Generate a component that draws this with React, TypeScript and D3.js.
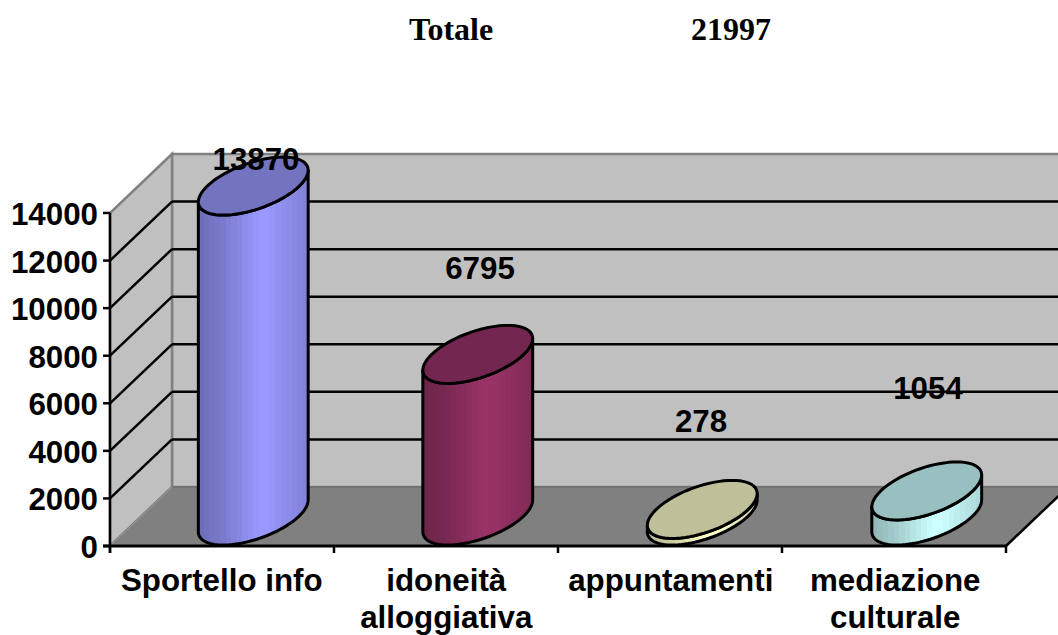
import React from "react";
import * as d3 from "d3";

const categories: string[][] = [["Sportello info"], ["idoneità", "alloggiativa"], ["appuntamenti"], ["mediazione", "culturale"]];
const values = [13870, 6795, 278, 1054];
const valueLabels = ["13870", "6795", "278", "1054"];
const yTicks = [0, 2000, 4000, 6000, 8000, 10000, 12000, 14000];
const sideColors = ["#9999ff", "#993366", "#ffffcc", "#ccffff"];
const topColors = ["#7373bf", "#732650", "#bfbf99", "#99c0c0"];
const labelPos: [number, number][] = [[256, 170], [480, 279], [701, 432], [928, 399]];
const shadeStops = [0.72, 0.74, 0.76, 0.78, 0.8, 0.83, 0.86, 0.89, 0.92, 0.95, 0.98, 1, 1, 0.98, 0.95, 0.93, 0.91, 0.89, 0.87, 0.85];

const W = 1058, H = 635;
const y0 = 546;
const depthX = 62, depthY = 59;
const cylDX = 60, cylDY = 58, cylW = 92;
const FONT = "'Liberation Sans', Arial, sans-serif";
const LABEL_SIZE = 31.3;

const yScale = d3.scaleLinear().domain([0, 14000]).range([y0, 213]);
const xBand = d3.scaleBand<number>().domain(d3.range(categories.length)).range([111, 1009]);
const xLeft = 110;
const xRight = 1006;

function ellipsePath(cx: number, cy: number) {
  const pts = d3.range(0, 73).map((i) => {
    const t = (i / 72) * 2 * Math.PI;
    return [cx + (Math.cos(t) * cylW) / 2 + (Math.sin(t) * cylDX) / 2, cy - (Math.sin(t) * cylDY) / 2] as [number, number];
  });
  return d3.line()(pts) + "Z";
}

function bodyPath(cx: number, yBottom: number, yTop: number) {
  const t0 = Math.atan2(cylDX, cylW);
  const pt = (t: number, cy: number): [number, number] => [
    cx + (Math.cos(t) * cylW) / 2 + (Math.sin(t) * cylDX) / 2,
    cy - (Math.sin(t) * cylDY) / 2,
  ];
  const pts: [number, number][] = [];
  d3.range(0, 49).forEach((i) => pts.push(pt(t0 - (i / 48) * Math.PI, yBottom)));
  d3.range(0, 49).forEach((i) => pts.push(pt(t0 - Math.PI + (i / 48) * Math.PI, yTop)));
  return d3.line()(pts) + "Z";
}

export default function App() {
  const backY = (v: number) => yScale(v) - depthY;
  return (
    <svg width={W} height={H} style={{ position: "absolute", left: 0, top: 0, background: "#fff" }} fontFamily={FONT}>
      <defs>
        {sideColors.map((c, i) => {
          const n = shadeStops.length;
          const col = d3.rgb(c);
          return (
            <linearGradient key={i} id={`side${i}`} x1="0" x2="1" y1="0" y2="0">
              {shadeStops.flatMap((s, j) => {
                const f = `rgb(${col.r * s},${col.g * s},${col.b * s})`;
                return [
                  <stop key={`a${j}`} offset={j / n} stopColor={f} />,
                  <stop key={`b${j}`} offset={(j + 1) / n} stopColor={f} />,
                ];
              })}
            </linearGradient>
          );
        })}
      </defs>

      <text x={409} y={40} fontFamily="'Liberation Serif', 'Times New Roman', serif" fontWeight="bold" fontSize={32}>Totale</text>
      <text x={691} y={40} fontFamily="'Liberation Serif', 'Times New Roman', serif" fontWeight="bold" fontSize={32}>21997</text>

      {/* back wall */}
      <rect x={xLeft + depthX} y={backY(14000)} width={W} height={yScale(0) - yScale(14000)} fill="#c0c0c0" stroke="#808080" strokeWidth={2.5} />
      {/* side wall */}
      <polygon
        points={[[xLeft, y0], [xLeft, yScale(14000)], [xLeft + depthX, backY(14000)], [xLeft + depthX, backY(0)]].join(" ")}
        fill="#c0c0c0" stroke="#808080" strokeWidth={2.5}
      />
      {/* floor */}
      <polygon
        points={[[xLeft, y0], [xRight, y0], [xRight + depthX, backY(0)], [xLeft + depthX, backY(0)]].join(" ")}
        fill="#808080"
      />
      <line x1={xLeft} y1={y0} x2={xLeft + depthX} y2={backY(0)} stroke="#9a9a9a" strokeWidth={1} />
      <line x1={xLeft + depthX} y1={backY(0)} x2={W} y2={backY(0)} stroke="#6e6e6e" strokeWidth={1.5} />

      {/* gridlines */}
      {yTicks.filter((t) => t > 0 && t < 14000).map((t) => (
        <g key={t} stroke="#000" strokeWidth={2.5} fill="none">
          <line x1={xLeft} y1={yScale(t)} x2={xLeft + depthX} y2={backY(t)} />
          <line x1={xLeft + depthX} y1={backY(t)} x2={W} y2={backY(t)} />
        </g>
      ))}

      {/* axes */}
      <line x1={xLeft} y1={yScale(14000)} x2={xLeft} y2={y0 + 7} stroke="#000" strokeWidth={2.5} />
      <line x1={xLeft - 7} y1={y0} x2={xRight} y2={y0} stroke="#000" strokeWidth={3} />
      <line x1={xRight} y1={y0} x2={xRight + depthX} y2={backY(0)} stroke="#000" strokeWidth={2.5} />
      {yTicks.map((t) => (
        <g key={t}>
          <line x1={xLeft - 7} x2={xLeft} y1={yScale(t)} y2={yScale(t)} stroke="#000" strokeWidth={2.5} />
          <text x={98} y={yScale(t) + 12} textAnchor="end" fontWeight="bold" fontSize={LABEL_SIZE} fill="#000">{t}</text>
        </g>
      ))}
      {d3.range(categories.length + 1).map((i) => {
        const x = xLeft + (i * (xRight - xLeft)) / categories.length;
        return <line key={i} x1={x} x2={x} y1={y0} y2={y0 + 7} stroke="#000" strokeWidth={2.5} />;
      })}
      {categories.map((lines, i) => (
        <text key={i} textAnchor="middle" fontWeight="bold" fontSize={LABEL_SIZE} fill="#000">
          {lines.map((l, j) => (
            <tspan key={j} x={xBand(i)! + xBand.bandwidth() / 2 - 1.5} y={591 + j * 37}>{l}</tspan>
          ))}
        </text>
      ))}

      {/* cylinders */}
      {values.map((v, i) => {
        const cx = xBand(i)! + xBand.bandwidth() / 2 + cylDX / 2;
        const yB = y0 - 1 - cylDY / 2;
        const yT = yScale(v) - 1 - cylDY / 2;
        return (
          <g key={i} stroke="#000" strokeWidth={3} strokeLinejoin="round">
            <path d={bodyPath(cx, yB, yT)} fill={`url(#side${i})`} />
            <path d={ellipsePath(cx, yT)} fill={topColors[i]} />
          </g>
        );
      })}

      {/* value labels */}
      {valueLabels.map((l, i) => (
        <text key={i} x={labelPos[i][0]} y={labelPos[i][1]} textAnchor="middle" fontWeight="bold" fontSize={LABEL_SIZE} fill="#000">{l}</text>
      ))}
    </svg>
  );
}
